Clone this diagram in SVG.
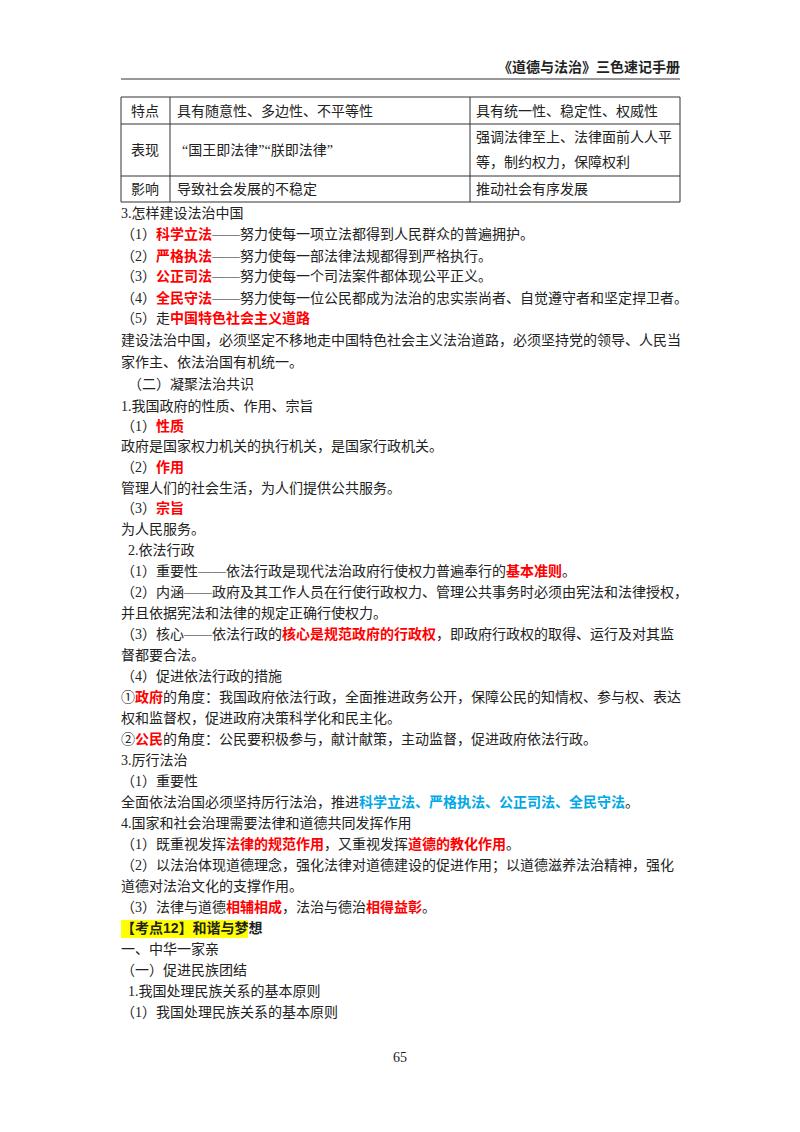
<svg xmlns="http://www.w3.org/2000/svg" width="800" height="1132" viewBox="0 0 800 1132">
<style>
text{font-family:"Liberation Serif","Noto Sans CJK SC",serif;font-size:14px;fill:#222}
.r{fill:#ff0000;font-weight:bold;font-family:"Liberation Sans","Noto Sans CJK SC",sans-serif}
.b{fill:#00a8e8;font-weight:bold;font-family:"Liberation Sans","Noto Sans CJK SC",sans-serif}
.h{font-weight:bold;font-family:"Liberation Sans","Noto Sans CJK SC",sans-serif}
.g line{stroke:#333;stroke-width:1}
</style>
<rect width="800" height="1132" fill="#fff"/>
<text x="680" y="72" text-anchor="end" class="h" font-size="14">《道德与法治》三色速记手册</text>
<line x1="121" y1="79" x2="680" y2="79" stroke="#333" stroke-width="1"/>
<g id="table" class="g">
<line x1="121" y1="97" x2="680" y2="97"/><line x1="121" y1="124" x2="680" y2="124"/>
<line x1="121" y1="176" x2="680" y2="176"/><line x1="121" y1="202" x2="680" y2="202"/>
<line x1="121" y1="97" x2="121" y2="202"/><line x1="170" y1="97" x2="170" y2="202"/>
<line x1="470" y1="97" x2="470" y2="202"/><line x1="680" y1="97" x2="680" y2="202"/>
<text x="145" y="116" text-anchor="middle">特点</text>
<text x="177" y="116">具有随意性、多边性、不平等性</text>
<text x="476" y="116">具有统一性、稳定性、权威性</text>
<text x="145" y="155" text-anchor="middle">表现</text>
<text x="182" y="155">“国王即法律”“朕即法律”</text>
<text x="476" y="142">强调法律至上、法律面前人人平</text>
<text x="476" y="167">等，制约权力，保障权利</text>
<text x="145" y="194" text-anchor="middle">影响</text>
<text x="177" y="194">导致社会发展的不稳定</text>
<text x="476" y="194">推动社会有序发展</text>
</g>
<g id="body">
<text x="121" y="218">3.怎样建设法治中国</text>
<text x="121" y="239">（1）<tspan class="r">科学立法</tspan>——努力使每一项立法都得到人民群众的普遍拥护。</text>
<text x="121" y="261">（2）<tspan class="r">严格执法</tspan>——努力使每一部法律法规都得到严格执行。</text>
<text x="121" y="281">（3）<tspan class="r">公正司法</tspan>——努力使每一个司法案件都体现公平正义。</text>
<text x="121" y="303">（4）<tspan class="r">全民守法</tspan>——努力使每一位公民都成为法治的忠实崇尚者、自觉遵守者和坚定捍卫者。</text>
<text x="121" y="323">（5）走<tspan class="r">中国特色社会主义道路</tspan></text>
<text x="121" y="345">建设法治中国，必须坚定不移地走中国特色社会主义法治道路，必须坚持党的领导、人民当</text>
<text x="121" y="367">家作主、依法治国有机统一。</text>
<text x="128" y="389">（二）凝聚法治共识</text>
<text x="121" y="411">1.我国政府的性质、作用、宗旨</text>
<text x="121" y="431">（1）<tspan class="r">性质</tspan></text>
<text x="121" y="451">政府是国家权力机关的执行机关，是国家行政机关。</text>
<text x="121" y="472">（2）<tspan class="r">作用</tspan></text>
<text x="121" y="493">管理人们的社会生活，为人们提供公共服务。</text>
<text x="121" y="513">（3）<tspan class="r">宗旨</tspan></text>
<text x="121" y="534">为人民服务。</text>
<text x="128" y="555">2.依法行政</text>
<text x="121" y="576">（1）重要性——依法行政是现代法治政府行使权力普遍奉行的<tspan class="r">基本准则</tspan>。</text>
<text x="121" y="597">（2）内涵——政府及其工作人员在行使行政权力、管理公共事务时必须由宪法和法律授权，</text>
<text x="121" y="618">并且依据宪法和法律的规定正确行使权力。</text>
<text x="121" y="639">（3）核心——依法行政的<tspan class="r">核心是规范政府的行政权</tspan>，即政府行政权的取得、运行及对其监</text>
<text x="121" y="660">督都要合法。</text>
<text x="121" y="681">（4）促进依法行政的措施</text>
<text x="121" y="702">①<tspan class="r">政府</tspan>的角度：我国政府依法行政，全面推进政务公开，保障公民的知情权、参与权、表达</text>
<text x="121" y="723">权和监督权，促进政府决策科学化和民主化。</text>
<text x="121" y="744">②<tspan class="r">公民</tspan>的角度：公民要积极参与，献计献策，主动监督，促进政府依法行政。</text>
<text x="121" y="765">3.厉行法治</text>
<text x="121" y="786">（1）重要性</text>
<text x="121" y="807">全面依法治国必须坚持厉行法治，推进<tspan class="b">科学立法、严格执法、公正司法、全民守法</tspan>。</text>
<text x="121" y="828">4.国家和社会治理需要法律和道德共同发挥作用</text>
<text x="121" y="849">（1）既重视发挥<tspan class="r">法律的规范作用</tspan>，又重视发挥<tspan class="r">道德的教化作用</tspan>。</text>
<text x="121" y="870">（2）以法治体现道德理念，强化法律对道德建设的促进作用；以道德滋养法治精神，强化</text>
<text x="121" y="891">道德对法治文化的支撑作用。</text>
<text x="121" y="912">（3）法律与道德<tspan class="r">相辅相成</tspan>，法治与德治<tspan class="r">相得益彰</tspan>。</text>
<rect x="121" y="920" width="127" height="18" fill="#ffff00"/>
<text x="121" y="933" class="h">【考点12】和谐与梦想</text>
<text x="121" y="954">一、中华一家亲</text>
<text x="121" y="975">（一）促进民族团结</text>
<text x="128" y="996">1.我国处理民族关系的基本原则</text>
<text x="121" y="1017">（1）我国处理民族关系的基本原则</text>
<text x="400" y="1062" text-anchor="middle" font-size="12">65</text>
</g>
</svg>
